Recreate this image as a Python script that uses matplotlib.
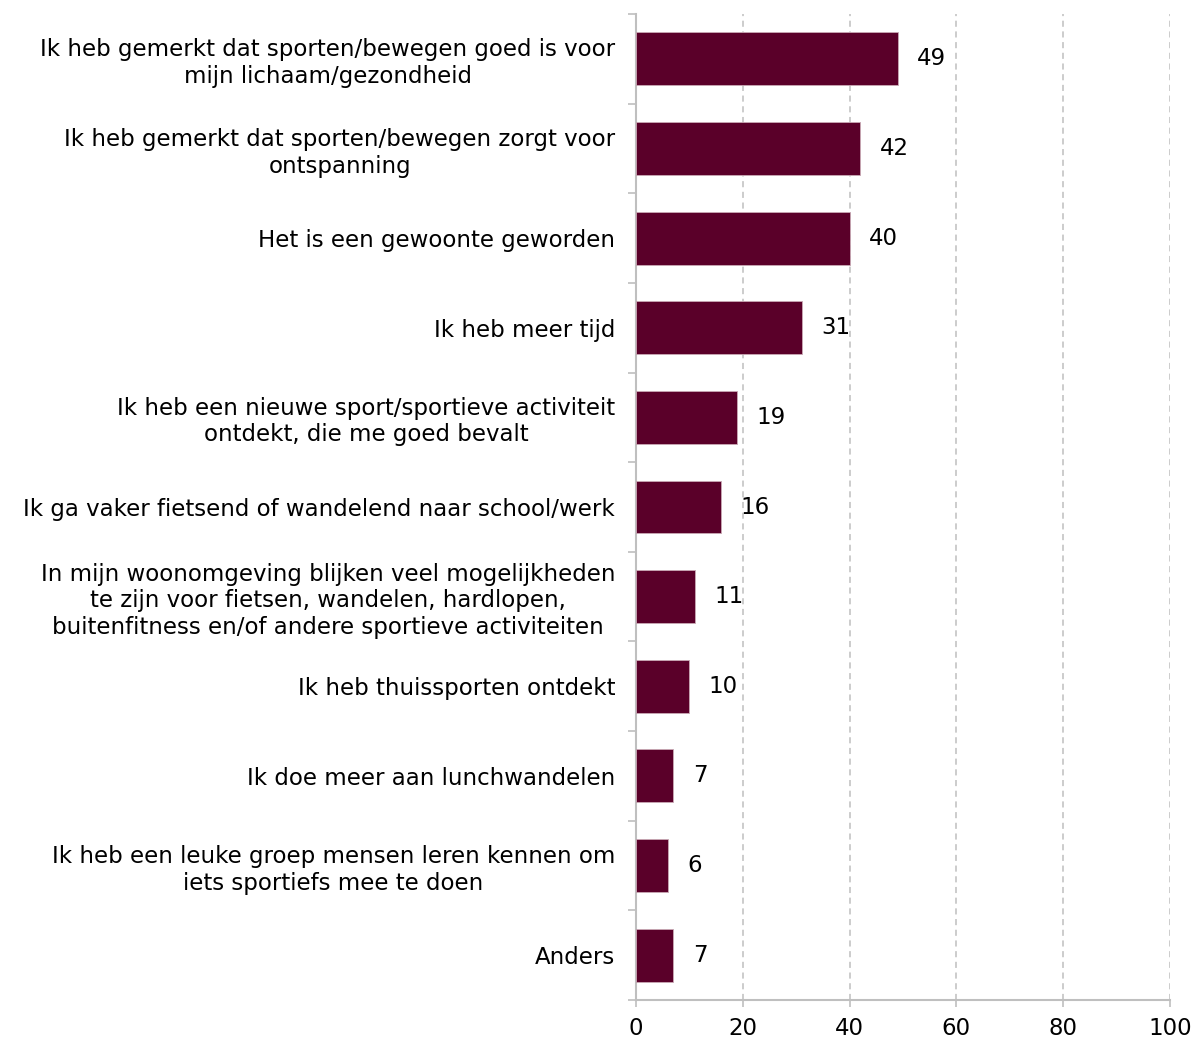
import matplotlib
matplotlib.use("Agg")
import matplotlib.pyplot as plt

categories = [
    "Ik heb gemerkt dat sporten/bewegen goed is voor\nmijn lichaam/gezondheid",
    "Ik heb gemerkt dat sporten/bewegen zorgt voor\nontspanning",
    "Het is een gewoonte geworden",
    "Ik heb meer tijd",
    "Ik heb een nieuwe sport/sportieve activiteit\nontdekt, die me goed bevalt",
    "Ik ga vaker fietsend of wandelend naar school/werk",
    "In mijn woonomgeving blijken veel mogelijkheden\nte zijn voor fietsen, wandelen, hardlopen,\nbuitenfitness en/of andere sportieve activiteiten",
    "Ik heb thuissporten ontdekt",
    "Ik doe meer aan lunchwandelen",
    "Ik heb een leuke groep mensen leren kennen om\niets sportiefs mee te doen",
    "Anders",
]
values = [49, 42, 40, 31, 19, 16, 11, 10, 7, 6, 7]
xticks = [0, 20, 40, 60, 80, 100]

W, H = 1196, 1042
fig = plt.figure(figsize=(W / 100, H / 100), dpi=100)
ax = fig.add_axes([636 / W, 1 - 1000 / H, (1170 - 636) / W, (1000 - 14) / H])

n = len(categories)
ypos = list(range(n))
bar_color = "#5a0029"
ax.barh(ypos, values, height=0.59, color=bar_color, edgecolor="#c9a9b5", linewidth=0.6, zorder=3)
ax.set_ylim(n - 0.5, -0.5)
ax.set_xlim(0, 100)

grey = "#bfbfbf"
for x in xticks[1:]:
    ax.axvline(x, color=grey, linestyle=(0, (4, 3)), linewidth=1.1, zorder=1)

for s in ["top", "right"]:
    ax.spines[s].set_visible(False)
for s in ["left", "bottom"]:
    ax.spines[s].set_color(grey)
    ax.spines[s].set_linewidth(1.5)

fs = 16.5
ax.set_xticks(xticks)
ax.set_xticklabels([str(v) for v in xticks], fontsize=fs)
ax.tick_params(axis="x", length=5, color=grey, width=1.2, pad=7)

# category boundary ticks on y axis
ax.set_yticks([i - 0.5 for i in range(n + 1)])
ax.set_yticklabels([])
ax.tick_params(axis="y", which="major", length=6, color=grey, width=1.2)
ax.set_yticks(ypos, minor=True)
ax.set_yticklabels(categories, minor=True, fontsize=fs, multialignment="center")
ax.tick_params(axis="y", which="minor", length=0, pad=15)

for y, v in zip(ypos, values):
    ax.annotate(str(v), xy=(v, y), xytext=(14, 0), textcoords="offset points",
                va="center", ha="left", fontsize=fs, zorder=4)

fig.savefig("out.png", dpi=100)
